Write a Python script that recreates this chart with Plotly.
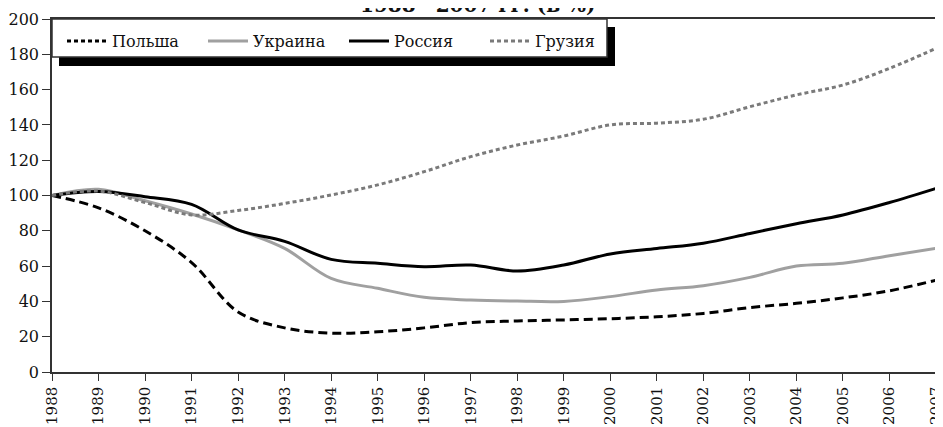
import plotly.graph_objects as go

years = list(range(1988, 2008))

poland = [100, 93, 80, 62, 34, 25, 22, 22.8, 25, 28, 28.9, 29.5, 30.2, 31.3, 33.2, 36.5, 38.9, 42, 46, 52]
ukraine = [100, 103.5, 97, 89.5, 80.5, 70, 53, 47.4, 42.3, 40.8, 40.2, 40, 42.7, 46.5, 48.9, 53.6, 60, 61.6, 65.9, 70]
russia = [100, 102.2, 99.3, 95, 80.5, 74, 63.8, 61.6, 59.7, 60.6, 57.2, 60.6, 66.9, 70, 73, 78.5, 84, 89, 96, 104]
georgia = [100, 102.5, 96, 89, 91.5, 95.5, 100.3, 106, 113.5, 122, 128.6, 133.7, 140, 141, 143.2, 150.3, 157, 162.6, 172, 183.4]

names = ["Польша", "Украина", "Россия", "Грузия"]
title_text = "1988—2007 гг. (в %)"

FONT = "DejaVu Serif"

fig = go.Figure()
# Poland: dashed in the plot, its legend key is drawn dotted (as in the original)
fig.add_trace(go.Scatter(x=years, y=poland, name=names[0], mode="lines", line_shape="spline",
                         showlegend=False, legendgroup="pl",
                         line=dict(color="#000000", width=3, dash="9px,5px")))
fig.add_trace(go.Scatter(x=[None], y=[None], name=names[0], mode="lines", legendgroup="pl",
                         legendrank=1, line=dict(color="#000000", width=3, dash="4px,3px")))
fig.add_trace(go.Scatter(x=years, y=ukraine, name=names[1], mode="lines", line_shape="spline",
                         legendrank=2, line=dict(color="#a0a0a0", width=3)))
fig.add_trace(go.Scatter(x=years, y=russia, name=names[2], mode="lines", line_shape="spline",
                         legendrank=3, line=dict(color="#000000", width=3)))
fig.add_trace(go.Scatter(x=years, y=georgia, name=names[3], mode="lines", line_shape="spline",
                         legendrank=4, line=dict(color="#7a7a7a", width=3, dash="4px,3px")))

# page body has an 8px margin: figure is shifted by 8px right and down
OFF = 8
W, H = 943 - OFF, 427 - OFF
L, R, T, B = 52 - OFF, 7, 19 - OFF, 55
pw, ph = W - L - R, H - T - B

def px(X):  # screen x -> paper
    return (X - 52) / pw

def py(Y):  # screen y -> paper
    return (372 - Y) / ph

fig.update_layout(
    width=W, height=H,
    margin=dict(l=L, r=R, t=T, b=B, autoexpand=False),
    paper_bgcolor="white", plot_bgcolor="white",
    font=dict(family=FONT, size=16, color="#111111"),
    showlegend=True,
    legend=dict(orientation="h", x=px(62), xanchor="left", y=py(41), yanchor="middle",
                bgcolor="rgba(0,0,0,0)", borderwidth=0, font=dict(family=FONT, size=16, color="#111"),
                itemwidth=40, entrywidth=86, entrywidthmode="pixels", traceorder="normal",
                tracegroupgap=0),
    xaxis=dict(range=[1988, 2007], tickmode="array", tickvals=years, ticktext=[str(y) for y in years],
               tickangle=-90, showgrid=False, zeroline=False, showline=True, linecolor="#333333",
               linewidth=1.5, mirror=True, ticks="outside", ticklen=7, tickcolor="#333333",
               automargin=False, ticklabeloverflow="allow",
               tickfont=dict(family=FONT, size=15, color="#111")),
    yaxis=dict(range=[0, 200], tickmode="array", tickvals=list(range(0, 201, 20)), showgrid=False,
               zeroline=False, showline=True, linecolor="#333333", linewidth=1.5, mirror=True,
               ticks="outside", ticklen=8, tickcolor="#333333", automargin=False,
               ticklabeloverflow="allow",
               tickfont=dict(family=FONT, size=16, color="#111")),
    shapes=[
        dict(type="rect", xref="paper", yref="paper", x0=px(59), x1=px(615), y0=py(66), y1=py(27),
             fillcolor="black", line=dict(width=0), layer="above"),
        dict(type="rect", xref="paper", yref="paper", x0=0, x1=px(607), y0=py(57), y1=1,
             fillcolor="white", line=dict(color="#333333", width=1.5), layer="above"),
    ],
    annotations=[
        dict(text="<b>" + title_text + "</b>", xref="paper", yref="paper", x=px(478), y=py(5),
             xanchor="center", yanchor="middle", showarrow=False,
             font=dict(family=FONT, size=20, color="#111")),
    ],
)

fig.write_html("out.html")
